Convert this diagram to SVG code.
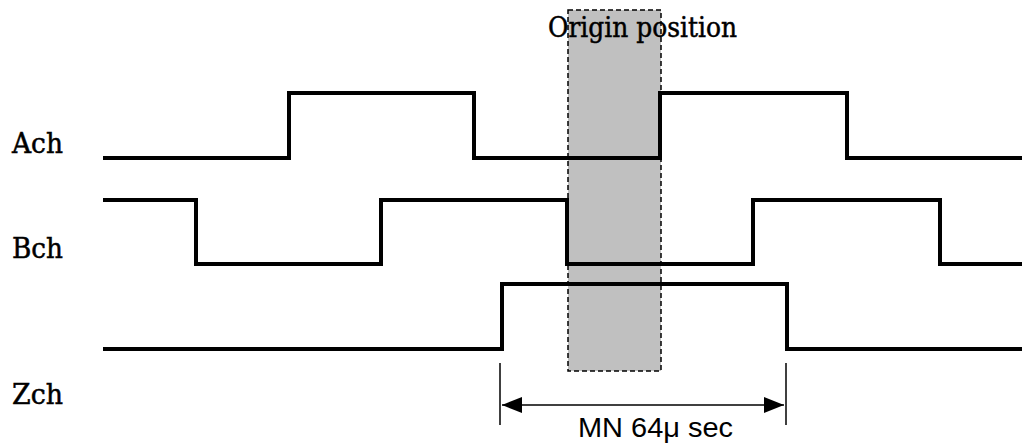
<svg xmlns="http://www.w3.org/2000/svg" width="1022" height="447" viewBox="0 0 1022 447">
<style>
.sig{fill:none;stroke:#000;stroke-width:4;stroke-linejoin:miter}
.lbl{font-family:"DejaVu Serif","Liberation Serif",serif;font-size:28px;fill:#000;stroke:#000;stroke-width:0.5}
.dim{fill:none;stroke:#000;stroke-width:1.5}
.mn{font-family:"Liberation Sans",Arial,sans-serif;font-size:27px;fill:#000}
</style>
<defs>
<marker id="ah" markerWidth="20" markerHeight="16" refX="20" refY="8" orient="auto-start-reverse" markerUnits="userSpaceOnUse">
<path d="M0,0 L20,8 L0,16 Z" fill="#000"/>
</marker>
</defs>
<rect width="1022" height="447" fill="#fff"/>
<g id="origin">
<rect x="568" y="10" width="93" height="361" fill="#c0c0c0" stroke="#000" stroke-width="1.5" stroke-dasharray="5,3"/>
<text class="lbl" x="548" y="37" textLength="189" lengthAdjust="spacingAndGlyphs">Origin position</text>
</g>
<g id="ach">
<text class="lbl" x="12" y="153" textLength="51" lengthAdjust="spacingAndGlyphs">Ach</text>
<path class="sig" d="M103,158 H289 V93 H474 V158 H660 V93 H847 V158 H1022"/>
</g>
<g id="bch">
<text class="lbl" x="12" y="258" textLength="51" lengthAdjust="spacingAndGlyphs">Bch</text>
<path class="sig" d="M103,200 H196 V264 H381 V200 H567 V264 H753 V200 H940 V264 H1022"/>
</g>
<g id="zch">
<text class="lbl" x="12" y="404" textLength="51" lengthAdjust="spacingAndGlyphs">Zch</text>
<path class="sig" d="M103,349 H502 V284 H787 V349 H1022"/>
</g>
<g id="connectors">
<line class="dim" x1="500" y1="363" x2="500" y2="425"/>
<line class="dim" x1="786" y1="363" x2="786" y2="425"/>
<line class="dim" x1="502" y1="405" x2="784" y2="405" marker-start="url(#ah)" marker-end="url(#ah)"/>
</g>
<g id="duration">
<text class="mn" x="578" y="437" textLength="155" lengthAdjust="spacingAndGlyphs">MN 64μ sec</text>
</g>
</svg>
